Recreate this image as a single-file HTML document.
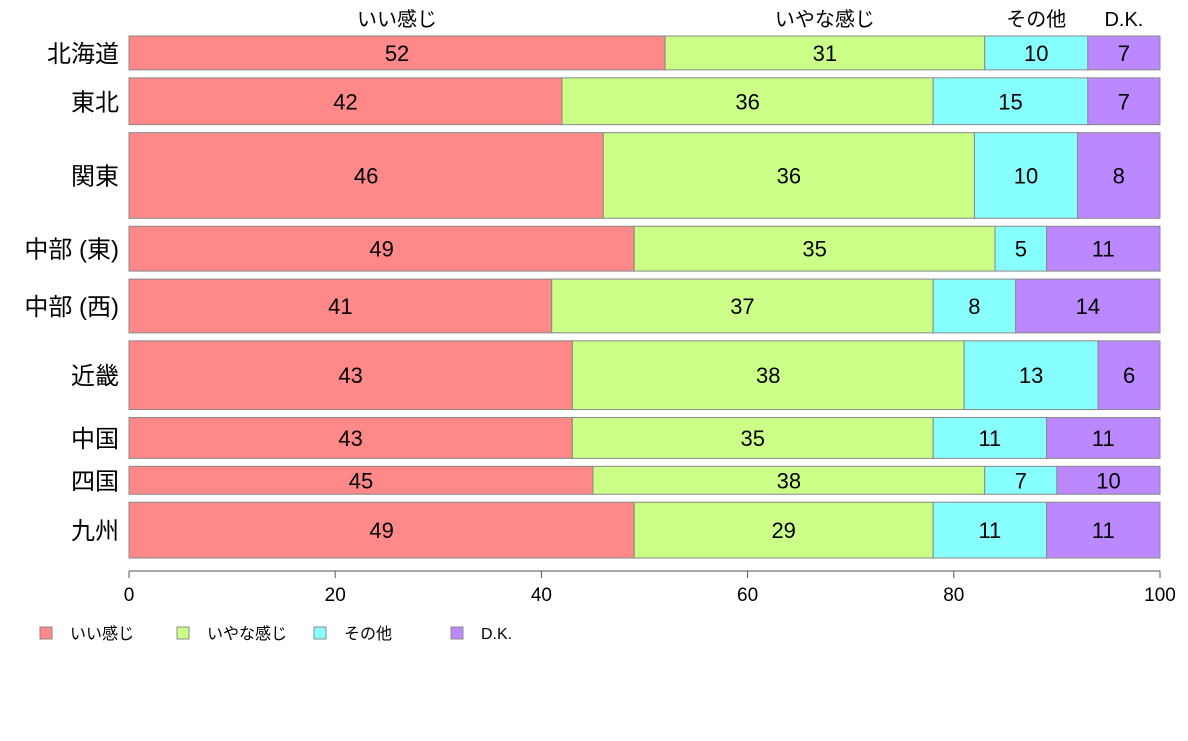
<!DOCTYPE html>
<html><head><meta charset="utf-8"><style>
body{margin:0;background:#fff;}
text{font-family:"Liberation Sans","Noto Sans CJK JP",sans-serif;}
</style></head><body>
<svg id="chart" width="1188" height="736" xmlns="http://www.w3.org/2000/svg"></svg>
<script>
const regions = ["北海道","東北","関東","中部 (東)","中部 (西)","近畿","中国","四国","九州"];
const goodVals = [52,42,46,49,41,43,43,45,49];
const badVals = [31,36,36,35,37,38,35,38,29];
const otherVals = [10,15,10,5,8,13,11,7,11];
const dkVals = [7,7,8,11,14,6,11,10,11];
const rowWeights = [34,47,86,45,54,69,41,28,56];
const seriesNames = ["いい感じ","いやな感じ","その他","D.K."];
const xTicks = [0,20,40,60,80,100];

const NS="http://www.w3.org/2000/svg";
const svg=document.getElementById('chart');
const colors=["#FF8888","#CCFF88","#88FFFF","#BB88FF"];
const series=[goodVals,badVals,otherVals,dkVals];
const x0=129,x1=1160,yTop=36,yBottom=558,gap=8;
const xs=v=>x0+(x1-x0)*v/100;
function mk(tag,attrs){const e=document.createElementNS(NS,tag);for(const k in attrs)e.setAttribute(k,attrs[k]);svg.appendChild(e);return e;}
const totalW=rowWeights.reduce((a,b)=>a+b,0);
const avail=yBottom-yTop-gap*(regions.length-1);
let yPos=yTop;
regions.forEach((r,i)=>{
  const h=avail*rowWeights[i]/totalW;
  let cum=0;
  series.forEach((s,j)=>{
    const v=s[i];
    const rect=mk('rect',{x:xs(cum),y:yPos,width:xs(cum+v)-xs(cum),height:h,fill:colors[j],stroke:"#888",'stroke-width':1});
    
    
    const t=mk('text',{x:(xs(cum)+xs(cum+v))/2,y:yPos+h/2+8,'text-anchor':'middle','font-size':22});
    t.textContent=v;
    
    
    if(i===0){
      const hl=mk('text',{x:(xs(cum)+xs(cum+v))/2,y:26,'text-anchor':'middle','font-size':20});
      hl.textContent=seriesNames[j];
      
      
    }
    cum+=v;
  });
  const lab=mk('text',{x:119,y:yPos+h/2+9,'text-anchor':'end','font-size':24});
  lab.textContent=r;
  
  
  yPos+=h+gap;
});
const ax=mk('line',{x1:x0,x2:x1,y1:571,y2:571,stroke:"#555"});


xTicks.forEach(v=>{
  const tk=mk('line',{x1:xs(v),x2:xs(v),y1:571,y2:578,stroke:"#555"});
  
  
  const tl=mk('text',{x:xs(v),y:601,'text-anchor':'middle','font-size':19});
  tl.textContent=v;
  
  
});
const legX=[40,177,314,451];
seriesNames.forEach((n,j)=>{
  const r=mk('rect',{x:legX[j],y:627,width:12,height:12,fill:colors[j],stroke:"#888"});
  
  
  const t=mk('text',{x:legX[j]+30,y:639,'font-size':16});
  t.textContent=n;
  
  
});
</script>
</body></html>
